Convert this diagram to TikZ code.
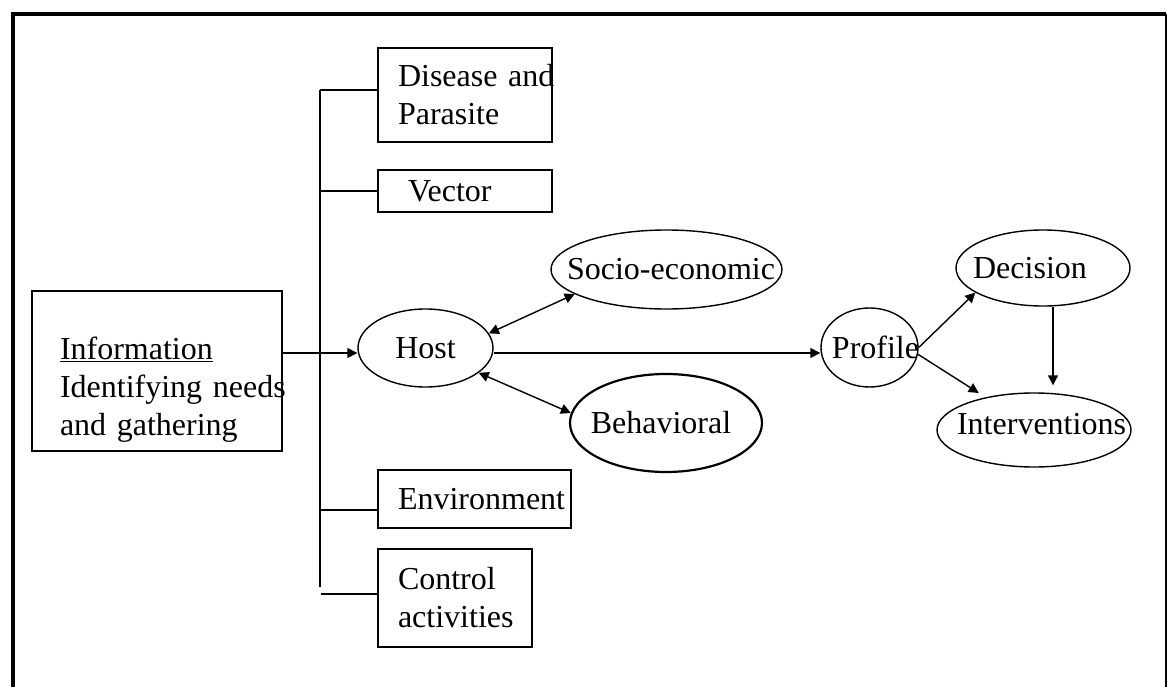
\documentclass[tikz,border=0pt]{standalone}
\usepackage{fontspec}
\setmainfont{Liberation Serif}
\usetikzlibrary{shapes.geometric,arrows.meta}
\hyphenpenalty=10000
\begin{document}
\begin{tikzpicture}[x=1pt,y=-1pt,line width=1.4pt,
  font=\fontsize{32pt}{38pt}\selectfont,
  >={Triangle[length=10pt,width=10pt]},
  blk/.style={draw,rectangle,align=left,inner ysep=0pt},
  oval/.style={draw,ellipse,inner sep=0pt}]
\useasboundingbox (0,0) rectangle (1167,687);
\draw[line width=4.5pt] (13,687) -- (13,14) -- (1166,14);
\draw[line width=1.5pt] (1166,14) -- (1166,687);

\node[blk,minimum height=160pt,inner xsep=28pt,text width=194pt] (info) at (157,371)
  {\rule{0pt}{59pt}\underline{Information}\\Identifying~needs\\and~gathering};
\node[blk,minimum height=94pt,inner xsep=20pt,text width=134pt] (dis) at (465,95) {Disease~and\\Parasite};
\node[blk,minimum height=42pt,inner xsep=20pt,text width=134pt] (vec) at (465,191) {\hspace*{10pt}Vector};
\node[blk,minimum height=58pt,inner xsep=20pt,text width=153pt] (env) at (474.5,499) {Environment};
\node[blk,minimum height=98pt,inner xsep=20pt,text width=114pt] (ctl) at (455,598) {Control\\activities};

\node[oval,minimum width=135pt,minimum height=78pt,label=center:Host] (host) at (425.5,348) {};
\node[oval,minimum width=231pt,minimum height=79pt,label={[xshift=4.5pt]center:Socio-economic}] (socio) at (666.5,269.5) {};
\node[oval,line width=2.2pt,minimum width=192pt,minimum height=98pt,label={[xshift=-5pt]center:Behavioral}] (behav) at (666,423) {};
\node[oval,minimum width=97pt,minimum height=79pt,label={[xshift=6pt]center:Profile}] (prof) at (869.5,347.5) {};
\node[oval,minimum width=174pt,minimum height=76pt,label={[xshift=-13pt]center:Decision}] (dec) at (1043,268) {};
\node[oval,minimum width=194pt,minimum height=74pt,label={[xshift=7.5pt,yshift=6pt]center:Interventions}] (interv) at (1034,430) {};

\coordinate (top) at (320,90);
\coordinate (bot) at (320,587);
\coordinate (envj) at (320,510);
\coordinate (ctlj) at (321,594);
\path[draw] (top) -- (bot);
\path[draw] (top) -- (top -| dis.west);
\path[draw] (bot |- vec.west) -- (vec.west);
\path[draw] (envj) -- (envj -| env.west);
\path[draw] (ctlj) -- (ctlj -| ctl.west);

\path[draw,->] ([yshift=18pt]info.east) -- ([yshift=-5pt]host.west);
\path[draw,->] ([yshift=-5pt]host.east) -- ([yshift=-5.5pt]prof.west);
\path[draw,<->] (host.13) -- (socio.195);
\path[draw,<->] (host.-25) -- (behav.174);
\path[draw,->] (prof.east) -- (dec.200);
\path[draw,->,shorten >=8pt] (prof.-8) -- (interv.146);
\path[draw,->,shorten >=7pt] ([xshift=10pt]dec.south) -- ([xshift=19pt]interv.north);
\end{tikzpicture}
\end{document}
